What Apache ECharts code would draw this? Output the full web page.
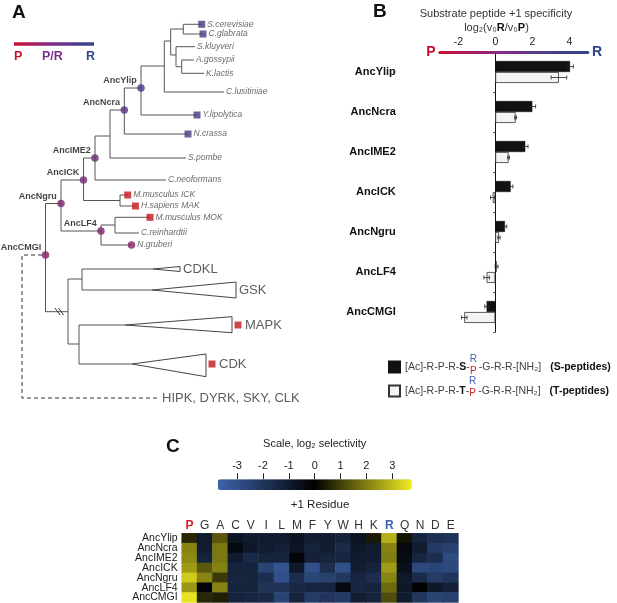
<!DOCTYPE html>
<html><head><meta charset="utf-8">
<script src="https://cdn.jsdelivr.net/npm/echarts@6/dist/echarts.min.js"></script>
<style>html,body{margin:0;padding:0;background:#fff}#c{width:617px;height:603px}</style>
</head><body><div id="c"></div>
<script>
const FONT = '"Liberation Sans", Arial, Helvetica, "DejaVu Sans", sans-serif';

// ---------- Panel B data ----------
const ancestorsB = ['AncYlip','AncNcra','AncIME2','AncICK','AncNgru','AncLF4','AncCMGI'];
const sValues = [4.04, 2.0, 1.62, 0.83, 0.52, 0.07, -0.47];
const sErr    = [0.18, 0.18, 0.15, 0.12, 0.10, 0.08, 0.10];
const tValues = [3.44, 1.10, 0.72, -0.14, 0.20, -0.47, -1.68];
const tErr    = [0.42, 0.05, 0.05, 0.12, 0.06, 0.15, 0.15];
const xTicksB = [-2, 0, 2, 4];

// ---------- Panel C data ----------
const residues = ['P','G','A','C','V','I','L','M','F','Y','W','H','K','R','Q','N','D','E'];
const ancestorsC = ['AncYlip','AncNcra','AncIME2','AncICK','AncNgru','AncLF4','AncCMGI'];
const selAncYlip = [0.6, -1.0, 1.4, -0.8, -1.0, -1.0, -1.0, -0.7, -1.1, -1.1, -1.3, -0.8, 0.4, 2.8, 0.3, -1.3, -1.8, -1.9];
const selAncNcra = [2.1, -1.1, 1.9, -0.3, -0.9, -1.1, -1.2, -0.8, -1.3, -1.1, -1.6, -0.9, -1.0, 2.1, -0.3, -1.1, -2.2, -2.4];
const selAncIME2 = [2.2, -1.3, 1.9, -1.0, -1.6, -1.3, -1.3, -0.2, -1.2, -1.3, -1.4, -1.0, -1.1, 2.0, -0.4, -1.4, -1.7, -2.8];
const selAncICK  = [2.45, 1.4, 2.05, -1.3, -1.3, -2.5, -3.1, -0.9, -3.0, -1.7, -3.0, -1.1, -1.3, 2.45, -0.6, -2.7, -2.6, -2.7];
const selAncNgru = [3.2, 2.1, 0.9, -1.4, -1.3, -1.7, -3.0, -1.7, -2.6, -2.4, -2.1, -1.4, -1.7, 2.1, -0.9, -1.6, -2.2, -2.0];
const selAncLF4  = [2.4, -0.2, 2.1, -1.3, -1.3, -1.9, -1.9, -1.5, -1.4, -1.4, -0.3, -1.4, -1.3, 1.7, -0.9, -0.1, -0.9, -1.2];
const selAncCMGI = [3.6, 0.6, 0.5, -1.3, -1.4, -1.5, -2.5, -1.3, -2.2, -2.0, -2.2, -1.1, -1.3, 1.2, -1.0, -2.0, -2.5, -2.4];
const scaleTicks = [-3, -2, -1, 0, 1, 2, 3];

// ---------- Panel A data (tree: name, branch position, row, parent) ----------
const treeNodes = [
  ['AncCMGI', 45.5, 255, null],
  ['AncNgru', 61, 203.5, 'AncCMGI'],
  ['AncICK', 83.5, 180, 'AncNgru'],
  ['AncIME2', 95, 158, 'AncICK'],
  ['n_pombe', 110, 136, 'AncIME2'],
  ['AncNcra', 124.3, 110, 'n_pombe'],
  ['AncYlip', 141, 88, 'AncNcra'],
  ['n_y1', 164.3, 66, 'AncYlip'],
  ['n_y2', 170.7, 41, 'n_y1'],
  ['n_y3', 183.3, 29, 'n_y2'],
  ['S.cerevisiae', 201.7, 24.3, 'n_y3'],
  ['C.glabrata', 203, 34, 'n_y3'],
  ['n_y4', 176, 55, 'n_y2'],
  ['S.kluyveri', 195, 46.7, 'n_y4'],
  ['n_y5', 181.7, 66.7, 'n_y4'],
  ['A.gossypii', 194, 60, 'n_y5'],
  ['K.lactis', 204, 73.3, 'n_y5'],
  ['C.lusitiniae', 224, 92, 'n_y1'],
  ['Y.lipolytica', 197, 115, 'AncYlip'],
  ['N.crassa', 188, 134, 'AncNcra'],
  ['S.pombe', 186, 158, 'n_pombe'],
  ['C.neoformans', 166, 180, 'AncIME2'],
  ['n_mak', 120, 200.5, 'AncICK'],
  ['M.musculus ICK', 127.7, 195, 'n_mak'],
  ['H.sapiens MAK', 135.5, 206, 'n_mak'],
  ['AncLF4', 101, 231, 'AncNgru'],
  ['n_mok', 115, 225, 'AncLF4'],
  ['M.musculus MOK', 150, 217.3, 'n_mok'],
  ['C.reinhardtii', 139, 233, 'n_mok'],
  ['N.gruberi', 131.5, 245, 'AncLF4'],
  ['n_out', 68, 311.7, 'AncCMGI'],
  ['n_cg', 82, 279, 'n_out'],
  ['CDKL', 153, 269, 'n_cg'],
  ['GSK', 152, 290, 'n_cg'],
  ['n_mc', 79, 344, 'n_out'],
  ['MAPK', 125, 325, 'n_mc'],
  ['CDK', 132, 364, 'n_mc']
];
// collapsed clades: name, base position, base top row, base bottom row
const collapsedClades = [
  ['CDKL', 180, 266.5, 271.5],
  ['GSK', 236, 282, 298],
  ['MAPK', 232, 316.7, 332.7],
  ['CDK', 206, 354, 376.7]
];
// +1 preference class of tips (P, R or P/R)
const tipClass = {
  'S.cerevisiae':'R','C.glabrata':'R','Y.lipolytica':'R','N.crassa':'R',
  'M.musculus ICK':'P','H.sapiens MAK':'P','M.musculus MOK':'P','N.gruberi':'PR',
  'MAPK':'P','CDK':'P'
};
const ancNodes = ['AncYlip','AncNcra','AncIME2','AncICK','AncNgru','AncLF4','AncCMGI'];
const outgroupPath = [[42,255],[22,255],[22,398],[157,398]];
const outgroupLabel = 'HIPK, DYRK, SKY, CLK';
const breakMarks = [[[55,308],[60,315]],[[58.5,308],[63.5,315]]];

// ---------- styles ----------
const classColor = {R:'#4a3a80', P:'#c4161c', PR:'#852262'};
const ancColor = {AncYlip:'#3b4080', AncNcra:'#58337a', AncIME2:'#6a2c76', AncICK:'#742a72',
                  AncNgru:'#7a266e', AncLF4:'#7e246a', AncCMGI:'#842062'};
const cP = '#c8102e', cR = '#2f4688', cPR = '#7a2d8e';

// ---------- build tree ----------
const nodeMap = {};
treeNodes.forEach(n => nodeMap[n[0]] = n);
const parents = new Set(treeNodes.map(n => n[3]).filter(Boolean));
const edges = treeNodes.filter(n => n[3]).map(n => {
  const p = nodeMap[n[3]];
  return {coords: [[p[1], p[2]], [p[1], n[2]], [n[1], n[2]]]};
});
const collapsedNames = collapsedClades.map(c => c[0]);
const tipPoints = treeNodes.filter(n => !parents.has(n[0]) && collapsedNames.indexOf(n[0]) < 0).map(n => {
  const cls = tipClass[n[0]];
  return {
    name: n[0], value: [n[1], n[2]],
    symbol: cls === 'PR' ? 'circle' : 'rect',
    symbolSize: cls ? (cls === 'PR' ? 7.5 : 7) : 0,
    itemStyle: {color: cls ? classColor[cls] : 'transparent'}
  };
});
const ancPoints = ancNodes.map(a => ({name: a, value: [nodeMap[a][1], nodeMap[a][2]], itemStyle: {color: ancColor[a]}}));
const triData = collapsedClades.map(c => [nodeMap[c[0]][1], nodeMap[c[0]][2], c[1], c[2], c[3]]);
const cladeLabelPts = collapsedClades.map(c => {
  const cls = tipClass[c[0]];
  return {
    name: c[0], value: [c[1] + (cls ? 6 : 0), nodeMap[c[0]][2]],
    symbol: 'rect', symbolSize: cls ? 7 : 0,
    itemStyle: {color: cls ? classColor[cls] : 'transparent'},
    label: {distance: cls ? 3.5 : 3}
  };
});

// ---------- heatmap data ----------
const selRows = [selAncYlip, selAncNcra, selAncIME2, selAncICK, selAncNgru, selAncLF4, selAncCMGI];
const heatData = [];
selRows.forEach((row, yi) => row.forEach((v, xi) => heatData.push([xi, yi, v])));

// ---------- error bar data ----------
const errData = [];
sValues.forEach((v, i) => errData.push([v, i, sErr[i], -1]));
tValues.forEach((v, i) => errData.push([v, i, tErr[i], 1]));

// ---------- legend measurement for stacked R/P ----------
const mctx = document.createElement('canvas').getContext('2d');
function tw(t, size, weight) { mctx.font = (weight || 'normal') + ' ' + size + 'px ' + FONT; return mctx.measureText(t).width; }
const LFS = 10.5;
const legLeft = 388, legTop = 360.5, legRowGap = 22;
function rpX(aa) { return legLeft + 11 + 5 + tw('[Ac]-R-P-R-', LFS) + tw(aa, LFS, 'bold') + tw('-', LFS) + 4.5; }

const chart = echarts.init(document.getElementById('c'), null, {renderer: 'canvas', width: 617, height: 603});

const gradB = new echarts.graphic.LinearGradient(0, 0, 1, 0, [
  {offset: 0, color: cP}, {offset: 0.42, color: '#8a2a8a'}, {offset: 0.62, color: '#5b3a8a'}, {offset: 1, color: cR}
]);
const gradA = new echarts.graphic.LinearGradient(0, 0, 1, 0, [
  {offset: 0, color: cP}, {offset: 0.5, color: cPR}, {offset: 1, color: cR}
]);

function txt(x, y, text, o) {
  return {type: 'text', x: x, y: y, silent: true, style: Object.assign({
    text: text, fontFamily: FONT, fontSize: 11, fill: '#222',
    align: 'left', verticalAlign: 'middle', textAlign: 'left', textVerticalAlign: 'middle'
  }, o || {})};
}
function ctr(o) { return Object.assign({align: 'center', textAlign: 'center'}, o); }

const option = {
  animation: false,
  backgroundColor: '#fff',
  textStyle: {fontFamily: FONT},
  legend: {
    data: ['S-peptides', 'T-peptides'],
    orient: 'vertical', left: legLeft, top: legTop, padding: 0,
    itemWidth: 11, itemHeight: 11, itemGap: 11, icon: 'rect',
    selectedMode: false,
    formatter: function (name) {
      const aa = name.charAt(0);
      return '{n|[Ac]-R-P-R-}{b|' + aa + '}{n|-}{g| }{n|-G-R-R-[NH₂]}{g| }{b|(' + name + ')}';
    },
    textStyle: {
      rich: {
        n: {fontSize: LFS, color: '#444', fontFamily: FONT, lineHeight: 11},
        b: {fontSize: LFS, color: '#111', fontWeight: 'bold', fontFamily: FONT, lineHeight: 11},
        g: {width: 9, fontSize: LFS, lineHeight: 11}
      }
    }
  },
  grid: [
    {left: 439.8, top: 52, width: 148, height: 280},
    {left: 0, top: 0, width: 300, height: 420},
    {left: 217.7, top: 479.3, width: 194, height: 10.7},
    {left: 181.7, top: 533.3, width: 276.7, height: 69.3}
  ],
  xAxis: [
    {gridIndex: 0, type: 'value', position: 'top', min: -3, max: 5,
     axisLine: {show: true, onZero: false, lineStyle: {color: gradB, width: 3}},
     axisTick: {show: false}, splitLine: {show: false},
     axisLabel: {customValues: xTicksB, fontSize: 10.5, color: '#222', margin: 4}},
    {gridIndex: 1, type: 'value', min: 0, max: 300, show: false},
    {gridIndex: 2, type: 'value', position: 'top', min: -3.75, max: 3.75,
     axisLine: {show: true, onZero: false, lineStyle: {color: '#222', opacity: 0}}, splitLine: {show: false},
     axisTick: {show: true, customValues: scaleTicks, length: 6, lineStyle: {color: '#222', width: 1, opacity: 1}},
     axisLabel: {customValues: scaleTicks, fontSize: 11, color: '#222', margin: 8},
     name: 'Scale, log₂ selectivity', nameLocation: 'middle', nameGap: 30,
     nameTextStyle: {fontSize: 11, color: '#222'}},
    {gridIndex: 3, type: 'category', data: residues, position: 'top',
     axisLine: {show: false}, axisTick: {show: false},
     axisLabel: {interval: 0, margin: 2, fontSize: 12, color: '#333',
       formatter: v => v === 'P' ? '{p|P}' : (v === 'R' ? '{r|R}' : v),
       rich: {p: {color: '#d0202a', fontWeight: 'bold', fontSize: 12}, r: {color: '#3a62b0', fontWeight: 'bold', fontSize: 12}}},
     name: '+1 Residue', nameLocation: 'middle', nameGap: 22,
     nameTextStyle: {fontSize: 11.5, color: '#222'}}
  ],
  yAxis: [
    {gridIndex: 0, type: 'category', data: ancestorsB, inverse: true,
     axisLine: {show: true, onZero: true, lineStyle: {color: '#111', width: 1}},
     axisTick: {show: true, length: 2, lineStyle: {color: '#444'}},
     axisLabel: {fontSize: 11, fontWeight: 'bold', color: '#111', margin: 44}},
    {gridIndex: 1, type: 'value', min: 0, max: 420, inverse: true, show: false},
    {gridIndex: 2, type: 'value', show: false},
    {gridIndex: 3, type: 'category', data: ancestorsC, inverse: true,
     axisLine: {show: false}, axisTick: {show: false},
     axisLabel: {interval: 0, fontSize: 10.5, lineHeight: 10, color: '#222', margin: 4}}
  ],
  visualMap: {
    type: 'continuous', seriesIndex: 3, dimension: 2,
    min: -3.75, max: 3.75, orient: 'horizontal',
    left: 217.7, top: 479.3, itemWidth: 10.7, itemHeight: 194, padding: 0,
    calculable: false, hoverLink: false, text: null,
    inRange: {color: ['#3d64ac', '#000000', '#f2ec22']}
  },
  series: [
    {type: 'bar', name: 'S-peptides', xAxisIndex: 0, yAxisIndex: 0, data: sValues,
     barWidth: 11, barGap: '0%', itemStyle: {color: '#111', borderColor: '#111', borderWidth: 0.5}, silent: true},
    {type: 'bar', name: 'T-peptides', xAxisIndex: 0, yAxisIndex: 0, data: tValues,
     barWidth: 11, barGap: '0%', itemStyle: {color: '#f3f3f3', borderColor: '#333', borderWidth: 0.8}, silent: true},
    {type: 'custom', name: 'err', xAxisIndex: 0, yAxisIndex: 0, data: errData, silent: true,
     encode: {x: 0, y: 1}, z: 5,
     renderItem: function (params, api) {
       const v = api.value(0), i = api.value(1), e = api.value(2), side = api.value(3);
       const c = api.coord([v, i]);
       const y = c[1] + side * 5.5;
       const x1 = api.coord([v - e, i])[0], x2 = api.coord([v + e, i])[0];
       const st = {stroke: '#222', lineWidth: 0.8};
       return {type: 'group', children: [
         {type: 'line', shape: {x1: x1, y1: y, x2: x2, y2: y}, style: st},
         {type: 'line', shape: {x1: x1, y1: y - 2, x2: x1, y2: y + 2}, style: st},
         {type: 'line', shape: {x1: x2, y1: y - 2, x2: x2, y2: y + 2}, style: st}
       ]};
     }},
    {type: 'heatmap', name: 'sel', xAxisIndex: 3, yAxisIndex: 3, data: heatData, silent: true,
     itemStyle: {borderWidth: 0}, emphasis: {disabled: true}},
    // tree
    {type: 'lines', coordinateSystem: 'cartesian2d', xAxisIndex: 1, yAxisIndex: 1, polyline: true,
     data: edges, silent: true, lineStyle: {color: '#555', width: 1, opacity: 1}},
    {type: 'lines', coordinateSystem: 'cartesian2d', xAxisIndex: 1, yAxisIndex: 1, polyline: true,
     data: [{coords: outgroupPath}], silent: true, lineStyle: {color: '#333', width: 1, opacity: 1, type: [4, 3]}},
    {type: 'lines', coordinateSystem: 'cartesian2d', xAxisIndex: 1, yAxisIndex: 1, polyline: false,
     data: breakMarks.map(b => ({coords: b})), silent: true, lineStyle: {color: '#333', width: 1, opacity: 1}},
    {type: 'custom', xAxisIndex: 1, yAxisIndex: 1, data: triData, silent: true,
     encode: {x: [0, 2], y: [1, 3, 4]},
     renderItem: function (params, api) {
       const a = api.coord([api.value(0), api.value(1)]);
       const b1 = api.coord([api.value(2), api.value(3)]);
       const b2 = api.coord([api.value(2), api.value(4)]);
       return {type: 'polygon', shape: {points: [a, b1, b2]}, style: {fill: '#fff', stroke: '#444', lineWidth: 1}};
     }},
    {type: 'scatter', xAxisIndex: 1, yAxisIndex: 1, data: tipPoints, silent: true, z: 4,
     label: {show: true, position: 'right', distance: 2, formatter: '{b}', fontSize: 8.5,
             fontStyle: 'italic', color: '#444', fontFamily: FONT}},
    {type: 'scatter', xAxisIndex: 1, yAxisIndex: 1, data: cladeLabelPts, silent: true, z: 4,
     label: {show: true, position: 'right', formatter: '{b}', fontSize: 13, color: '#333', fontFamily: FONT}},
    {type: 'scatter', xAxisIndex: 1, yAxisIndex: 1, silent: true, z: 4, symbolSize: 0,
     data: [{name: outgroupLabel, value: outgroupPath[outgroupPath.length - 1]}],
     label: {show: true, position: 'right', distance: 5, formatter: '{b}', fontSize: 13, color: '#333', fontFamily: FONT}},
    {type: 'scatter', xAxisIndex: 1, yAxisIndex: 1, data: ancPoints, silent: true, z: 5,
     symbol: 'circle', symbolSize: 7.5,
     label: {show: true, position: 'left', distance: 0.5, offset: [0, -7], formatter: '{b}',
             fontSize: 9, fontWeight: 'bold', color: '#111', fontFamily: FONT}}
  ],
  graphic: [
    txt(12, 13, 'A', {fontSize: 19, fontWeight: 'bold', fill: '#111'}),
    txt(373, 11.5, 'B', {fontSize: 19, fontWeight: 'bold', fill: '#111'}),
    txt(166, 447, 'C', {fontSize: 19, fontWeight: 'bold', fill: '#111'}),
    {type: 'rect', silent: true, shape: {x: 14, y: 42.3, width: 80, height: 3.5}, style: {fill: gradA}},
    txt(14, 56.5, 'P', {fontSize: 12.5, fontWeight: 'bold', fill: cP}),
    txt(42, 56.5, 'P/R', {fontSize: 12.5, fontWeight: 'bold', fill: cPR}),
    txt(86, 56.5, 'R', {fontSize: 12.5, fontWeight: 'bold', fill: cR}),
    txt(496, 13.7, 'Substrate peptide +1 specificity', ctr({fontSize: 11, fill: '#333'})),
    txt(496.5, 27.5, '{n|log₂(v₀}{b|R}{n|/v₀}{b|P}{n|)}', ctr({rich: {
      n: {fontSize: 11, fill: '#333', fontFamily: FONT},
      b: {fontSize: 11, fill: '#111', fontWeight: 'bold', fontFamily: FONT}}})),
    txt(431, 52, 'P', ctr({fontSize: 14, fontWeight: 'bold', fill: cP})),
    txt(597, 52, 'R', ctr({fontSize: 14, fontWeight: 'bold', fill: cR})),
    txt(rpX('S'), legTop + 5.5 - 7, 'R', ctr({fontSize: 10, fill: '#4a62b0'})),
    txt(rpX('S'), legTop + 5.5 + 5, 'P', ctr({fontSize: 10, fill: '#d0202a'})),
    txt(rpX('T'), legTop + 5.5 + legRowGap - 7, 'R', ctr({fontSize: 10, fill: '#4a62b0'})),
    txt(rpX('T'), legTop + 5.5 + legRowGap + 5, 'P', ctr({fontSize: 10, fill: '#d0202a'}))
  ]
};
chart.setOption(option);
</script>
</body></html>
